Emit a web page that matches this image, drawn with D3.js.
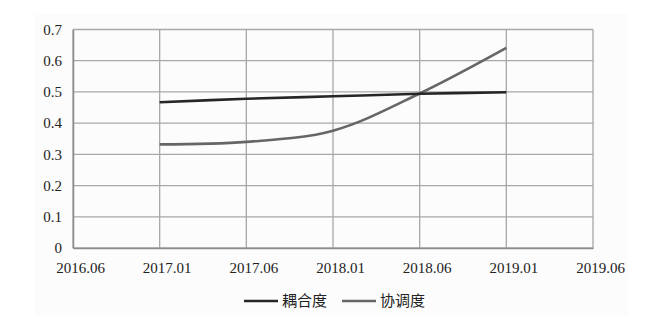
<!DOCTYPE html>
<html>
<head>
<meta charset="utf-8">
<script src="https://cdn.jsdelivr.net/npm/d3@7"></script>
<style>
  body { margin: 0; background: #fff; }
  svg { display: block; }
</style>
</head>
<body>
<svg id="chart" width="653" height="326"></svg>
<script>
// x categories
const periods = ["2016.06", "2017.01", "2017.06", "2018.01", "2018.06", "2019.01", "2019.06"];
const linePeriods = ["2017.01", "2017.06", "2018.01", "2018.06", "2019.01"];
const couplingVals = [0.467, 0.478, 0.486, 0.494, 0.499];      // 耦合度
const coordVals = [0.332, 0.340, 0.376, 0.495, 0.641];         // 协调度
const yTicks = [0, 0.1, 0.2, 0.3, 0.4, 0.5, 0.6, 0.7];

const serif = "'Liberation Serif', 'Times New Roman', serif";

const svg = d3.select("#chart");

// light panel behind the chart
svg.append("rect")
    .attr("x", 35).attr("y", 14)
    .attr("width", 593).attr("height", 301)
    .attr("fill", "#fcfcfc");

const mLeft = 73, mRight = 593, mTop = 29.5, mBottom = 248;

const x = d3.scalePoint()
    .domain(periods)
    .range([mLeft, mRight]);
const y = d3.scaleLinear()
    .domain([0, 0.7])
    .range([mBottom, mTop]);

// grid
const grid = svg.append("g").attr("stroke", "#a8a8a8").attr("stroke-width", 1.3);
grid.selectAll("line.h")
    .data(yTicks)
    .enter().append("line")
    .attr("x1", mLeft).attr("x2", mRight)
    .attr("y1", d => y(d)).attr("y2", d => y(d));
grid.selectAll("line.v")
    .data(periods)
    .enter().append("line")
    .attr("x1", d => x(d)).attr("x2", d => x(d))
    .attr("y1", mTop).attr("y2", mBottom);

// axes
const yAxis = d3.axisLeft(y).tickValues(yTicks).tickSize(0).tickPadding(11)
    .tickFormat(d => d === 0 ? "0" : d3.format(".1f")(d));
svg.append("g")
    .attr("transform", `translate(${mLeft},0)`)
    .call(yAxis)
    .call(g => g.select(".domain").attr("stroke", "#8c8c8c").attr("stroke-width", 1.5))
    .call(g => g.selectAll("text")
        .style("font-family", serif)
        .style("font-size", "15px").attr("fill", "#222"));

const xAxis = d3.axisBottom(x).tickSize(0).tickPadding(14);
svg.append("g")
    .attr("transform", `translate(0,${mBottom})`)
    .call(xAxis)
    .call(g => g.select(".domain").attr("stroke", "#8c8c8c").attr("stroke-width", 1.5))
    .call(g => g.selectAll("text")
        .attr("dx", 7)
        .style("font-family", serif)
        .style("font-size", "15px").attr("fill", "#222"));

// lines
const line = d3.line()
    .x((d, i) => x(linePeriods[i]))
    .y(d => y(d))
    .curve(d3.curveCatmullRom.alpha(0.5));

svg.append("path")
    .datum(coordVals)
    .attr("d", line)
    .attr("fill", "none")
    .attr("stroke", "#666")
    .attr("stroke-width", 2.6);

svg.append("path")
    .datum(couplingVals)
    .attr("d", line)
    .attr("fill", "none")
    .attr("stroke", "#262626")
    .attr("stroke-width", 2.6);

// legend
const legend = [
    {name: "耦合度", color: "#262626", x: 244},
    {name: "协调度", color: "#666", x: 342}
];
const lg = svg.append("g");
lg.selectAll("line")
    .data(legend)
    .enter().append("line")
    .attr("x1", d => d.x).attr("x2", d => d.x + 34)
    .attr("y1", 301).attr("y2", 301)
    .attr("stroke", d => d.color)
    .attr("stroke-width", 2.6);
lg.selectAll("text")
    .data(legend)
    .enter().append("text")
    .attr("x", d => d.x + 38)
    .attr("y", 306)
    .style("font-family", "'Noto Sans CJK SC', sans-serif")
    .style("font-size", "15px")
    .attr("fill", "#222")
    .text(d => d.name);
</script>
</body>
</html>
